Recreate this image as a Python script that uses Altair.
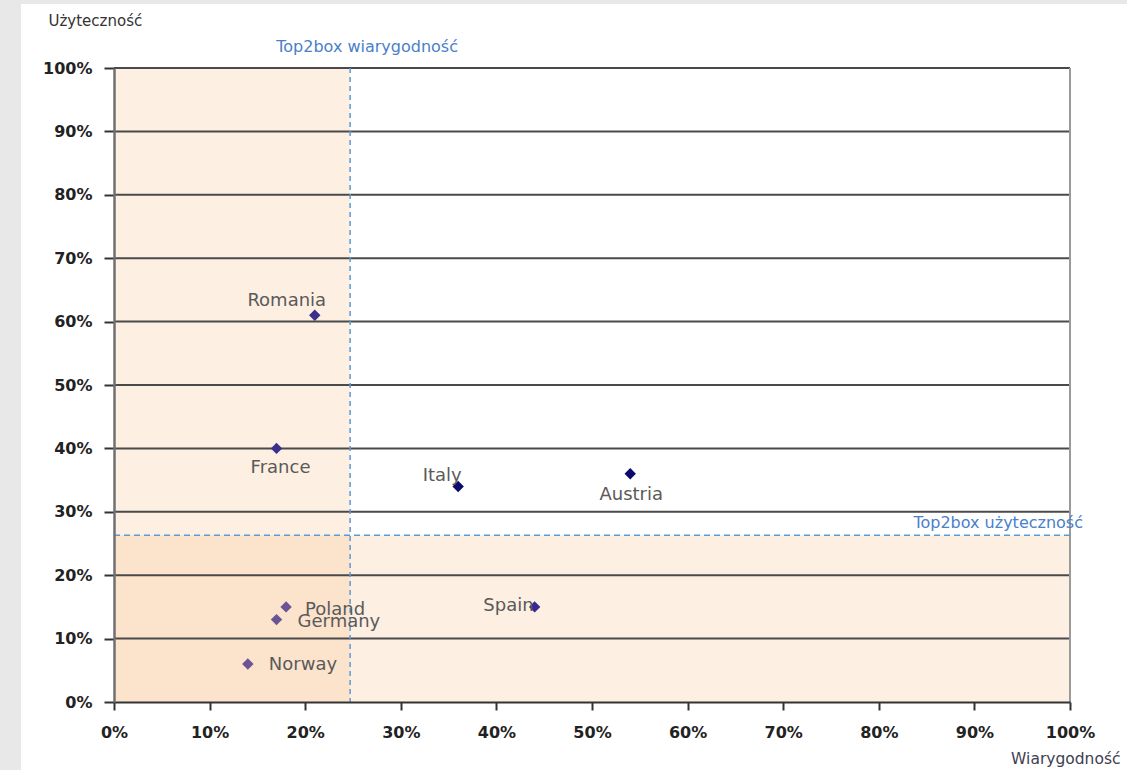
import altair as alt
import pandas as pd

countries = ["Romania", "France", "Italy", "Austria", "Spain", "Poland", "Germany", "Norway"]
wiarygodnosc = [0.21, 0.17, 0.36, 0.54, 0.44, 0.18, 0.17, 0.14]
uzytecznosc = [0.61, 0.40, 0.34, 0.36, 0.15, 0.15, 0.13, 0.06]
tick_values = [0, 0.1, 0.2, 0.3, 0.4, 0.5, 0.6, 0.7, 0.8, 0.9, 1.0]
grid_values = [0.1, 0.2, 0.3, 0.4, 0.5, 0.6, 0.7, 0.8, 0.9, 1.0]
top2box_wiar = 0.247
top2box_uzyt = 0.263
x_title = "Wiarygodność"
y_title = "Użyteczność"
label_wiar = "Top2box wiarygodność"
label_uzyt = "Top2box użyteczność"

W, H = 956, 634
PAD = {"left": 114, "top": 68, "right": 57, "bottom": 68}

df = pd.DataFrame({"country": countries, "wiar": wiarygodnosc, "uzyt": uzytecznosc})
df_grid = pd.DataFrame({"v": grid_values})
df_shade = pd.DataFrame({
    "x0": [0, 0], "x1": [top2box_wiar, 1.0],
    "y0": [0, 0], "y1": [1.0, top2box_uzyt],
})

x_scale = alt.Scale(domain=[0, 1], nice=False, zero=True)
y_scale = alt.Scale(domain=[0, 1], nice=False, zero=True)

x_axis = alt.Axis(
    values=tick_values, format=".0%", title=x_title, grid=False, zindex=1,
    titleX=1006, titleY=61, titleAlign="right", titleBaseline="alphabetic",
    titleFont="DejaVu Sans", titleFontSize=15.5, titleFontWeight="normal", titleColor="#404050",
    labelFont="DejaVu Sans", labelFontWeight="bold", labelFontSize=16, labelColor="#222222",
    labelPadding=14, labelFlush=False, tickSize=8, tickColor="#333333", tickWidth=2,
    domainColor="#333333", domainWidth=2,
)
y_axis = alt.Axis(
    values=tick_values, format=".0%", title=y_title, grid=False, zindex=1,
    titleAngle=0, titleX=-66, titleY=-43, titleAlign="left", titleBaseline="alphabetic",
    titleFont="DejaVu Sans", titleFontSize=15, titleFontWeight="normal", titleColor="#333333",
    labelFont="DejaVu Sans", labelFontWeight="bold", labelFontSize=16, labelColor="#222222",
    labelPadding=12, labelFlush=False, tickSize=10, tickColor="#333333", tickWidth=2,
    domainColor="#707070", domainWidth=2.5,
)

white_bg = alt.Chart(alt.Data(values=[{}])).mark_rect(color="white").encode(
    x=alt.value(21 - PAD["left"]), x2=alt.value(1127 - PAD["left"]),
    y=alt.value(4 - PAD["top"]), y2=alt.value(770 - PAD["top"]),
)

shade = alt.Chart(df_shade).mark_rect(color="#f8c08a", opacity=0.25).encode(
    x=alt.X("x0:Q", scale=x_scale, axis=x_axis), x2="x1:Q",
    y=alt.Y("y0:Q", scale=y_scale, axis=y_axis), y2="y1:Q",
)

grid = alt.Chart(df_grid).mark_rule(color="#4a4a4a", strokeWidth=2).encode(
    y=alt.Y("v:Q", scale=y_scale, axis=y_axis)
)

right_border = alt.Chart(pd.DataFrame({"v": [1.0]})).mark_rule(color="#9a9a9a", strokeWidth=2).encode(
    x=alt.X("v:Q", scale=x_scale, axis=x_axis)
)

vline = alt.Chart(pd.DataFrame({"v": [top2box_wiar]})).mark_rule(
    color="#5b9bd5", strokeDash=[5, 4], strokeWidth=1.5
).encode(x=alt.X("v:Q", scale=x_scale, axis=x_axis))

hline = alt.Chart(pd.DataFrame({"v": [top2box_uzyt]})).mark_rule(
    color="#5b9bd5", strokeDash=[6, 4], strokeWidth=1.5
).encode(y=alt.Y("v:Q", scale=y_scale, axis=y_axis))

vlabel = alt.Chart(pd.DataFrame({"v": [top2box_wiar], "t": [label_wiar]})).mark_text(
    font="DejaVu Sans", fontSize=16, color="#4a80c8", align="center", baseline="middle", dx=17
).encode(x=alt.X("v:Q", scale=x_scale, axis=x_axis), y=alt.value(-21), text="t:N")

hlabel = alt.Chart(pd.DataFrame({"v": [top2box_uzyt], "t": [label_uzyt]})).mark_text(
    font="DejaVu Sans", fontSize=16, color="#4a80c8", align="right", baseline="middle", dy=-12
).encode(y=alt.Y("v:Q", scale=y_scale, axis=y_axis), x=alt.value(W + 13), text="t:N")

point_colors = ["#3c2e8c", "#3c2e8c", "#0b0b6b", "#0b0b6b", "#3a2a90", "#6a5496", "#6a5496", "#6a5496"]
points = alt.Chart(df).mark_point(shape="diamond", filled=True, size=130, opacity=1).encode(
    x=alt.X("wiar:Q", scale=x_scale, axis=x_axis),
    y=alt.Y("uzyt:Q", scale=y_scale, axis=y_axis),
    color=alt.Color("country:N", scale=alt.Scale(domain=countries, range=point_colors), legend=None),
)

label_pos = {
    "Romania": ("center", -28, -14),
    "France": ("center", 4, 20),
    "Italy": ("center", -16, -10),
    "Austria": ("center", 1, 21),
    "Spain": ("right", -1, -1),
    "Poland": ("left", 19, 3),
    "Germany": ("left", 21, 2),
    "Norway": ("left", 21, 1),
}
labels = []
for name, (al, dx, dy) in label_pos.items():
    labels.append(
        alt.Chart(df).transform_filter(alt.datum.country == name).mark_text(
            font="DejaVu Sans", fontSize=18, color="#5a5a5a", align=al, baseline="middle", dx=dx, dy=dy
        ).encode(
            x=alt.X("wiar:Q", scale=x_scale, axis=x_axis),
            y=alt.Y("uzyt:Q", scale=y_scale, axis=y_axis),
            text="country:N",
        )
    )

chart = alt.layer(white_bg, shade, grid, right_border, vline, hline, points, *labels, vlabel, hlabel).properties(
    width=W, height=H, autosize=alt.AutoSizeParams(type="none"), padding=PAD, background="#e8e8e8"
).configure_view(stroke=None)

chart.save("out.html", embed_options={"renderer": "svg", "actions": False})
